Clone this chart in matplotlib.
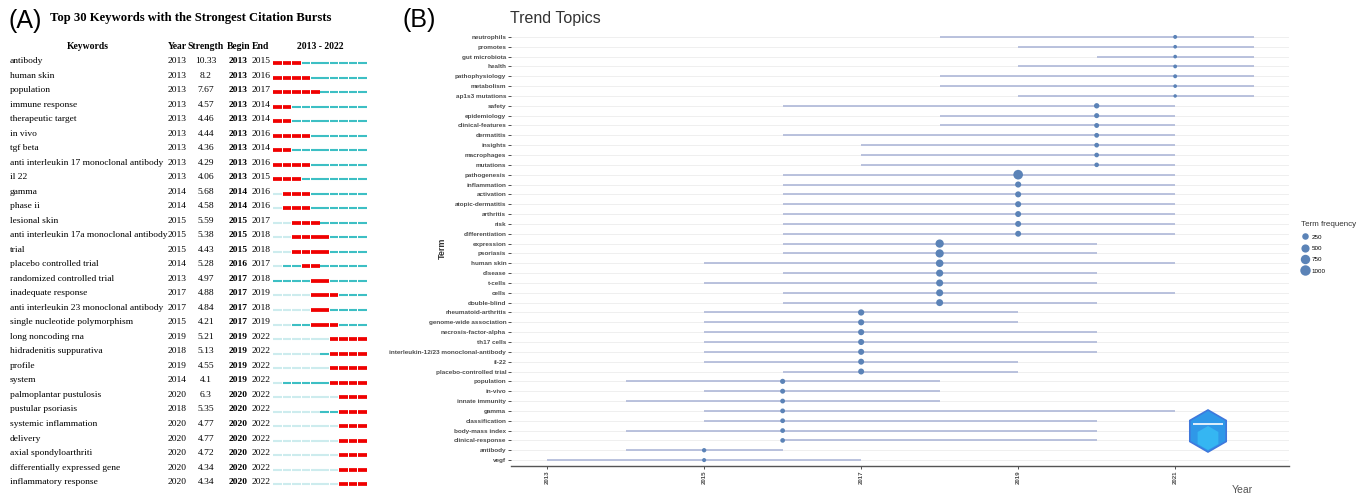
import numpy as np
import matplotlib
matplotlib.use("Agg")
import matplotlib.pyplot as plt
from matplotlib.patches import RegularPolygon
from matplotlib.lines import Line2D

W, H = 1364, 494

# ---- panel A: citation bursts ----
keywords = [
    "antibody", "human skin", "population", "immune response",
    "therapeutic target", "in vivo", "tgf beta",
    "anti interleukin 17 monoclonal antibody", "il 22", "gamma", "phase ii",
    "lesional skin", "anti interleukin 17a monoclonal antibody", "trial",
    "placebo controlled trial", "randomized controlled trial",
    "inadequate response", "anti interleukin 23 monoclonal antibody",
    "single nucleotide polymorphism", "long noncoding rna",
    "hidradenitis suppurativa", "profile", "system",
    "palmoplantar pustulosis", "pustular psoriasis", "systemic inflammation",
    "delivery", "axial spondyloarthriti", "differentially expressed gene",
    "inflammatory response",
]
kw_year = [2013, 2013, 2013, 2013, 2013, 2013, 2013, 2013, 2013, 2014, 2014,
           2015, 2015, 2015, 2014, 2013, 2017, 2017, 2015, 2019, 2018, 2019,
           2014, 2020, 2018, 2020, 2020, 2020, 2020, 2020]
strength = [10.33, 8.2, 7.67, 4.57, 4.46, 4.44, 4.36, 4.29, 4.06, 5.68, 4.58,
            5.59, 5.38, 4.43, 5.28, 4.97, 4.88, 4.84, 4.21, 5.21, 5.13, 4.55,
            4.1, 6.3, 5.35, 4.77, 4.77, 4.72, 4.34, 4.34]
burst_begin = [2013] * 9 + [2014, 2014, 2015, 2015, 2015, 2016, 2017, 2017,
                            2017, 2017, 2019, 2019, 2019, 2019, 2020, 2020,
                            2020, 2020, 2020, 2020, 2020]
burst_end = [2015, 2016, 2017, 2014, 2014, 2016, 2014, 2016, 2015, 2016, 2016,
             2017, 2018, 2018, 2017, 2018, 2019, 2018, 2019] + [2022] * 11
span_years = list(range(2013, 2023))

# ---- panel B: trend topics (top to bottom) ----
terms = [
    "neutrophils", "promotes", "gut microbiota", "health", "pathophysiology",
    "metabolism", "ap1s3 mutations",
    "safety", "epidemiology", "clinical-features", "dermatitis", "insights",
    "macrophages", "mutations",
    "pathogenesis", "inflammation", "activation", "atopic-dermatitis",
    "arthritis", "risk", "differentiation",
    "expression", "psoriasis", "human skin", "disease", "t-cells", "cells",
    "double-blind",
    "rheumatoid-arthritis", "genome-wide association", "necrosis-factor-alpha",
    "th17 cells", "interleukin-12/23 monoclonal-antibody", "il-22",
    "placebo-controlled trial",
    "population", "in-vivo", "innate immunity", "gamma", "classification",
    "body-mass index", "clinical-response",
    "antibody", "vegf",
]
year_q1 = [2018, 2019, 2020, 2019, 2018, 2018, 2019,
           2016, 2018, 2018, 2016, 2017, 2017, 2017,
           2016, 2016, 2016, 2016, 2016, 2016, 2016,
           2016, 2016, 2015, 2016, 2015, 2016, 2016,
           2015, 2015, 2015, 2015, 2015, 2015, 2016,
           2014, 2015, 2014, 2015, 2015, 2014, 2016,
           2014, 2013]
year_med = [2021] * 7 + [2020] * 7 + [2019] * 7 + [2018] * 7 + [2017] * 7 + \
           [2016] * 7 + [2015] * 2
year_q3 = [2022] * 7 + [2021] * 7 + [2021] * 7 + \
          [2020, 2020, 2021, 2020, 2020, 2021, 2020] + \
          [2019, 2019, 2020, 2020, 2020, 2019, 2019] + \
          [2018, 2018, 2018, 2021, 2020, 2020, 2020] + \
          [2016, 2017]
term_freq = [70, 60, 60, 65, 70, 60, 55,
             170, 140, 130, 120, 115, 110, 105,
             1000, 260, 250, 250, 240, 240, 235,
             650, 640, 500, 420, 400, 400, 390,
             280, 260, 260, 250, 250, 240, 240,
             150, 135, 120, 120, 115, 115, 110,
             90, 75]
legend_freq = [250, 500, 750, 1000]


def px_box(left, top, right, bottom):
    return [left / W, 1 - bottom / H, (right - left) / W, (bottom - top) / H]


def marker_area(freq):
    d = 3 + 7 * np.sqrt(np.clip((np.asarray(freq) - 50) / 1050, 0, None))
    return (d * 0.72) ** 2


fig = plt.figure(figsize=(W / 100, H / 100), dpi=100)

serif = "Liberation Serif"
sans = "Liberation Sans"

# table part of panel A (x in pixels, y in rows)
row0, pitch = 61, 14.52
ylim_rows = ((H - row0) / pitch, -row0 / pitch)
ax_t = fig.add_axes(px_box(0, 0, 400, H))
ax_t.set_xlim(0, 400)
ax_t.set_ylim(*ylim_rows)
ax_t.axis("off")

ax_t.text(8, -2.75, "(A)", fontsize=18, family=sans, va="center")
ax_t.text(50, -2.95, "Top 30 Keywords with the Strongest Citation Bursts",
          fontsize=9.1, family=serif, weight="bold", va="center")
hdr_y = -1.03
for x, s in [(88, "Keywords"), (177, "Year"), (206, "Strength"),
             (239, "Begin"), (261, "End"), (320, "2013 - 2022")]:
    ax_t.text(x, hdr_y, s, fontsize=6.9, family=serif, weight="bold",
              ha="center", va="center")

for i, kw in enumerate(keywords):
    ax_t.text(10, i, kw, fontsize=6.8, family=serif, va="center")
    ax_t.text(177, i, str(kw_year[i]), fontsize=6.8, family=serif,
              ha="center", va="center")
    ax_t.text(206, i, f"{strength[i]:g}", fontsize=6.8, family=serif,
              ha="center", va="center")
    ax_t.text(238, i, str(burst_begin[i]), fontsize=6.8, family=serif,
              weight="bold", ha="center", va="center")
    ax_t.text(261, i, str(burst_end[i]), fontsize=6.8, family=serif,
              ha="center", va="center")

# burst bars (x in years)
ax_bar = fig.add_axes(px_box(273, 0, 367, H))
ax_bar.set_xlim(2013, 2023)
ax_bar.set_ylim(*ylim_rows)
ax_bar.axis("off")
for i in range(len(keywords)):
    for yr in span_years:
        if burst_begin[i] <= yr <= burst_end[i]:
            col, lw = "#F00000", 2.7
        elif yr < kw_year[i]:
            col, lw = "#CDECEE", 1.5
        else:
            col, lw = "#3DBFC4", 1.5
        ax_bar.hlines(i + 0.15, yr + 0.05, yr + 0.95, color=col, lw=lw)

# ---- panel B ----
ax_b = fig.add_axes(px_box(511, 31, 1289, 466))
n = len(terms)
ypos = np.arange(n)[::-1]
ax_b.set_xlim(2012.54, 2022.45)
ax_b.set_ylim(-0.6, n - 0.4)
ax_b.grid(axis="y", color="#EFEFEF", lw=0.7, zorder=0)
ax_b.hlines(ypos, year_q1, year_q3, color="#B4BDDB", lw=1.3, zorder=2)
pt_color = "#5B83B7"
ax_b.scatter(year_med, ypos, s=marker_area(term_freq), color=pt_color,
             edgecolors="none", zorder=3)

ax_b.set_yticks(ypos)
ax_b.set_yticklabels(terms, fontsize=4.6, family=sans, weight="bold",
                     color="#4D4D4D")
ax_b.set_xticks([2013, 2015, 2017, 2019, 2021])
ax_b.set_xticklabels(["2013", "2015", "2017", "2019", "2021"], rotation=90,
                     fontsize=4.4, family=sans, weight="bold",
                     color="#4D4D4D")
ax_b.tick_params(axis="both", length=2, width=0.6, color="#333333", pad=1.5)
for side in ["left", "top", "right"]:
    ax_b.spines[side].set_visible(False)
ax_b.spines["bottom"].set_color("#555555")
ax_b.spines["bottom"].set_linewidth(1.0)

ax_b.set_ylabel("Term", fontsize=6.5, family=sans, weight="bold",
                color="#333333")
ax_b.yaxis.set_label_coords((447 - 511) / 778, 0.5)
ax_b.set_xlabel("Year", fontsize=7.5, family=sans, color="#555555")
ax_b.xaxis.set_label_coords((1242 - 511) / 778, -(485 - 466) / 435)

handles = [Line2D([], [], ls="none", marker="o", color=pt_color,
                  markeredgewidth=0, markersize=np.sqrt(a) * 1.08)
           for a in marker_area(legend_freq)]
leg = fig.legend(handles, [str(v) for v in legend_freq],
                 title="Term frequency", loc="upper left",
                 bbox_to_anchor=(1297 / W, 1 - 217 / H), frameon=False,
                 prop={"family": sans, "size": 4.5}, title_fontsize=5.8,
                 labelspacing=0.95, handletextpad=0.6, handlelength=1.0,
                 borderpad=0.2)
leg.get_title().set_family(sans)
leg.get_title().set_color("#333333")
leg._legend_box.align = "left"

# overlay for panel labels and logo (pixel coords)
ax_o = fig.add_axes([0, 0, 1, 1], zorder=5)
ax_o.set_xlim(0, W)
ax_o.set_ylim(H, 0)
ax_o.axis("off")
ax_o.text(403, 20, "(B)", fontsize=18, family=sans, va="center")
ax_o.text(510, 19, "Trend Topics", fontsize=11.5, family=sans,
          color="#333333", va="center")
ax_o.add_patch(RegularPolygon((1208, 431), 6, radius=21,
                              facecolor="#2F98E8", edgecolor="#3F78DC",
                              lw=1.2))
ax_o.add_patch(RegularPolygon((1208, 438), 6, radius=12,
                              facecolor="#35B6F2", edgecolor="none"))
ax_o.hlines(424, 1193, 1223, color="white", lw=1.2)

fig.savefig("out.png", dpi=100)
